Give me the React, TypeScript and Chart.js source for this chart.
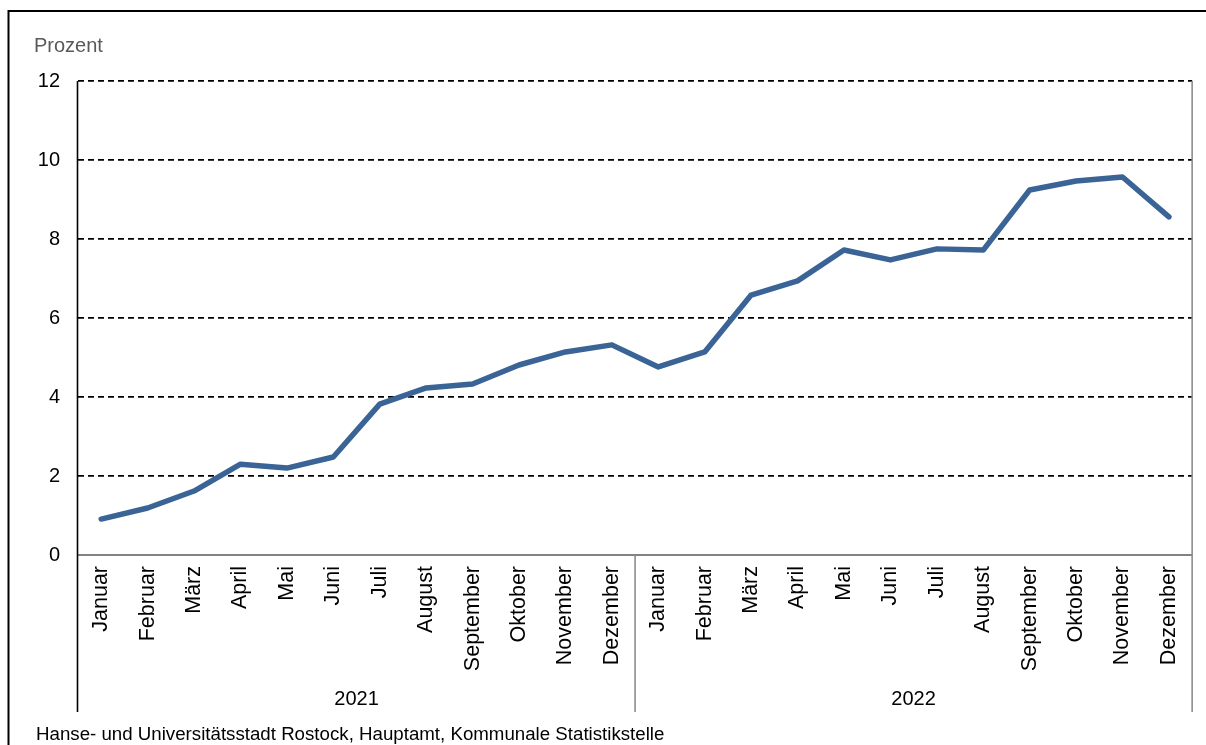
import React, { useEffect, useRef } from "react";
import { Chart, registerables } from "chart.js";

Chart.register(...registerables);

const months = [
  "Januar", "Februar", "März", "April", "Mai", "Juni",
  "Juli", "August", "September", "Oktober", "November", "Dezember",
];
const years = ["2021", "2022"];
const values2021 = [0.91, 1.19, 1.62, 2.3, 2.2, 2.48, 3.82, 4.23, 4.33, 4.81, 5.14, 5.32];
const values2022 = [4.76, 5.14, 6.58, 6.94, 7.72, 7.47, 7.75, 7.72, 9.24, 9.47, 9.57, 8.56];
const yMin = 0;
const yMax = 12;
const yStep = 2;
const unitLabel = "Prozent";
const sourceNote = "Hanse- und Universitätsstadt Rostock, Hauptamt, Kommunale Statistikstelle";

const FONT = "'Liberation Sans', Arial, sans-serif";

const labels = [...months, ...months];
const values = [...values2021, ...values2022];

const W = 1206;
const H = 745;
const AXIS_BOTTOM_EXT = 712;

const decorPlugin = {
  id: "decor",
  beforeDatasetsDraw(chart: any) {
    const { ctx, chartArea } = chart;
    const { left, right, top, bottom } = chartArea;
    const xs = chart.scales.x;
    ctx.save();
    // bottom axis
    ctx.strokeStyle = "#595959";
    ctx.lineWidth = 1.6;
    ctx.beginPath();
    ctx.moveTo(left, bottom);
    ctx.lineTo(right, bottom);
    ctx.stroke();
    // right axis
    ctx.strokeStyle = "#8c8c8c";
    ctx.beginPath();
    ctx.moveTo(right, top);
    ctx.lineTo(right, AXIS_BOTTOM_EXT);
    ctx.stroke();
    // group separator
    const n = months.length;
    const sepX = (xs.getPixelForValue(n - 1) + xs.getPixelForValue(n)) / 2;
    ctx.beginPath();
    ctx.moveTo(sepX, bottom);
    ctx.lineTo(sepX, AXIS_BOTTOM_EXT);
    ctx.stroke();
    // left axis
    ctx.strokeStyle = "#000000";
    ctx.beginPath();
    ctx.moveTo(left - 0.5, top);
    ctx.lineTo(left - 0.5, AXIS_BOTTOM_EXT);
    ctx.stroke();
    ctx.restore();
  },
  afterDraw(chart: any) {
    const { ctx } = chart;
    const xs = chart.scales.x;
    const n = months.length;
    ctx.save();
    // outer frame
    ctx.strokeStyle = "#000000";
    ctx.lineWidth = 2;
    ctx.beginPath();
    ctx.moveTo(W, 11);
    ctx.lineTo(8.5, 11);
    ctx.lineTo(8.5, H);
    ctx.stroke();
    // year labels
    ctx.fillStyle = "#000000";
    ctx.font = `20px ${FONT}`;
    ctx.textAlign = "center";
    ctx.textBaseline = "alphabetic";
    years.forEach((yr, i) => {
      const cx = (xs.getPixelForValue(i * n) + xs.getPixelForValue(i * n + n - 1)) / 2;
      ctx.fillText(yr, cx, 705);
    });
    // unit label
    ctx.fillStyle = "#595959";
    ctx.font = `20px ${FONT}`;
    ctx.textAlign = "left";
    ctx.fillText(unitLabel, 34, 52);
    // source
    ctx.fillStyle = "#000000";
    ctx.font = `18.7px ${FONT}`;
    ctx.fillText(sourceNote, 36, 740);
    ctx.restore();
  },
};

export default function App() {
  const ref = useRef<HTMLCanvasElement | null>(null);
  useEffect(() => {
    if (!ref.current) return;
    const chart = new Chart(ref.current, {
      type: "line",
      data: {
        labels,
        datasets: [
          {
            data: values,
            borderColor: "#3B6496",
            borderWidth: 5.5,
            borderCapStyle: "round",
            borderJoinStyle: "round",
            pointRadius: 0,
            tension: 0,
            fill: false,
          },
        ],
      },
      plugins: [decorPlugin],
      options: {
        animation: false,
        responsive: false,
        devicePixelRatio: 1,
        layout: { padding: { left: 0, top: 81, right: 13, bottom: H - AXIS_BOTTOM_EXT } },
        plugins: {
          legend: { display: false },
          tooltip: { enabled: false },
          title: { display: false },
        },
        scales: {
          x: {
            type: "category",
            offset: true,
            grid: { display: false, drawTicks: false },
            border: { display: false },
            ticks: {
              autoSkip: false,
              minRotation: 90,
              maxRotation: 90,
              padding: 11,
              color: "#000000",
              font: { family: FONT, size: 21.5 },
            },
            afterFit(scale: any) {
              scale.height = AXIS_BOTTOM_EXT - 555;
            },
          },
          y: {
            min: yMin,
            max: yMax,
            grid: {
              drawTicks: false,
              color: (c: any) => (c.tick && c.tick.value === 0 ? "rgba(0,0,0,0)" : "#000000"),
              lineWidth: 1.8,
            },
            border: { display: false, dash: [6, 4] },
            ticks: {
              stepSize: yStep,
              padding: 18,
              color: "#000000",
              font: { family: FONT, size: 20 },
            },
            afterFit(scale: any) {
              scale.width = 78;
            },
          },
        },
      },
    });
    return () => chart.destroy();
  }, []);
  return (
    <canvas
      ref={ref}
      width={W}
      height={H}
      style={{ position: "absolute", left: 0, top: 0, width: W, height: H }}
    />
  );
}
